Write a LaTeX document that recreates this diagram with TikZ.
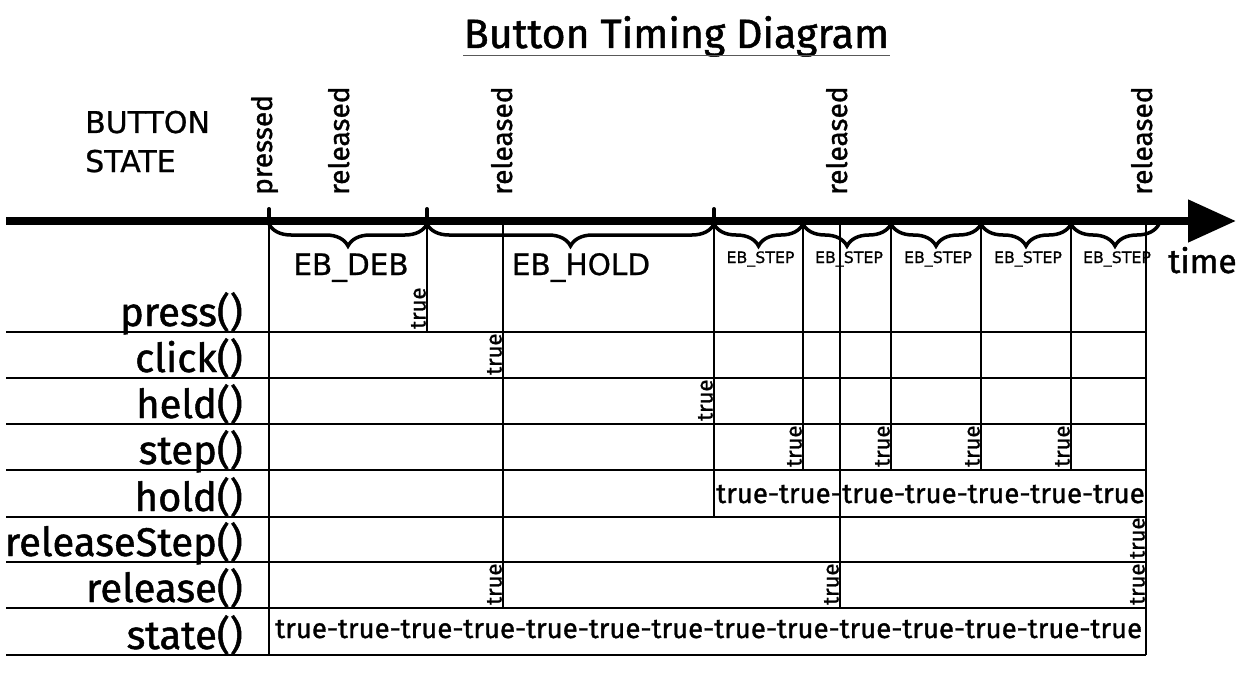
\documentclass[tikz,border=0pt]{standalone}
\usepackage{fontspec}
\setmainfont{Fira Sans}[FakeBold=1.2]
\newfontfamily\capsfont{DejaVu Sans}[FakeBold=0.8]
\usepackage{tikz}
\usetikzlibrary{arrows.meta, decorations.pathreplacing}

\begin{document}
\begin{tikzpicture}[x=1pt, y=-1pt,
  grid/.style={line width=1.6pt},
  brc/.style={decorate, decoration={brace, mirror, amplitude=22pt}, line width=3.5pt},
  rowlabel/.style={anchor=base east, inner sep=0pt, font=\fontsize{40}{42}\selectfont},
  evlabel/.style={rotate=90, anchor=base west, inner sep=0pt, font=\fontsize{28}{30}\selectfont},
  flag/.style={rotate=90, anchor=base west, inner sep=0pt, font=\fontsize{22}{24}\selectfont},
  run/.style={anchor=base west, inner sep=0pt, font=\fontsize{27.6}{29}\selectfont},
  caps/.style={inner sep=0pt, font=\capsfont\fontsize{#1}{#1}\selectfont}]
\useasboundingbox (0,0) rectangle (1253,682);
% title
\node[anchor=base, inner sep=0pt, font=\fontsize{41}{43}\selectfont] (title) at (676.5,48) {Button Timing Diagram};
\draw[gray!70!black, line width=1pt] (463,56) -- (890,56);
\node[caps=30, anchor=base west] (bst1) at (85,133) {BUTTON};
\node[caps=30, anchor=base west] (bst2) at (85,172) {STATE};
% time axis
\draw[line width=8pt, -{Triangle[length=48pt, width=41pt]}] (6,221) -- (1236,221);
\node[anchor=base west, inner sep=0pt, font=\fontsize{33.5}{35}\selectfont] (time) at (1168,273) {time};
\foreach \x in {269,427,714}
  \draw[line width=4pt, line cap=round] (\x,209) -- (\x,223);
% events
\node[evlabel] (ev1) at (272,195) {pressed};
\node[evlabel] (ev2) at (349,195) {released};
\node[evlabel] (ev3) at (512,195) {released};
\node[evlabel] (ev4) at (847,195) {released};
\node[evlabel] (ev5) at (1152,195) {released};
% intervals
\draw[brc] (269,224) -- (427,224);
\draw[brc] (427,224) -- (714,224);
\node[caps=29.5, anchor=base] (deb) at (351,275) {EB\_DEB};
\node[caps=29.5, anchor=base] (hld) at (581,275) {EB\_HOLD};
\foreach \a/\b [count=\i] in {714/803, 803/891, 891/981, 981/1071, 1071/1159}{
  \draw[brc] (\a,224) -- (\b,224);
  \node[caps=15.8, anchor=base] (stp\i) at ({(\a+\b)/2+2},263) {EB\_STEP};
}
% rows
\foreach \name/\yb in {press/332, click/378, held/424, step/470, hold/517, releaseStep/562, release/608, state/655}{
  \draw[grid] (6,\yb) -- (1146,\yb);
  \node[rowlabel] (lbl-\name) at (243,\yb-6) {\name()};
}
\foreach \x/\yb in {269/655, 427/332, 503/608, 714/517, 803/470, 840/608, 891/470, 981/470, 1071/470, 1146/655}
  \draw[grid] (\x,221) -- (\x,\yb);
% returned values
\foreach \x/\yb in {427/332, 503/378, 714/424, 803/470, 891/470, 981/470, 1071/470, 503/608, 840/608, 1146/562, 1146/608}
  \node[flag] at (\x-1.5,\yb-3) {true};
\node[run] (hold1) at (716,503) {true-true-};
\node[run] (hold2) at (842,503) {true-true-true-true-true};
\node[run] (st) at (275,638) {true-true-true-true-true-true-true-true-true-true-true-true-true-true};
\end{tikzpicture}
\end{document}
